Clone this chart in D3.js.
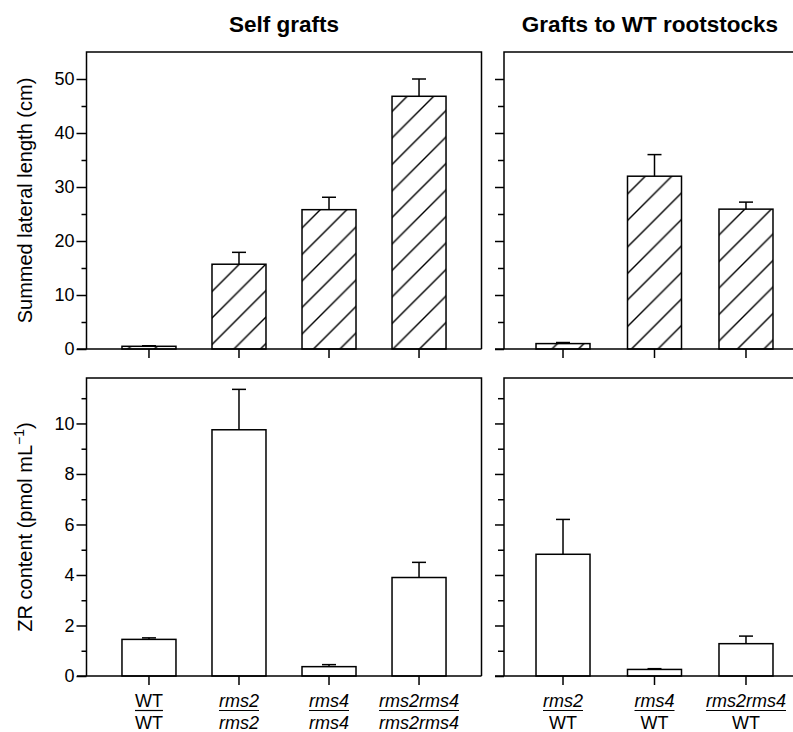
<!DOCTYPE html>
<html>
<head>
<meta charset="utf-8">
<script src="https://cdn.jsdelivr.net/npm/d3@7"></script>
<style>
  body { margin: 0; background: #fff; }
  svg { display: block; font-family: "Liberation Sans", Arial, sans-serif; }
</style>
</head>
<body>
<svg id="chart" width="793" height="732"></svg>
<script>
// categories (top / bottom of each graft label)
const selfTop = ['WT', 'rms2', 'rms4', 'rms2rms4'];
const selfBottom = ['WT', 'rms2', 'rms4', 'rms2rms4'];
const wtTop = ['rms2', 'rms4', 'rms2rms4'];
const wtBottom = ['WT', 'WT', 'WT'];

// summed lateral length (cm)
const lengthSelf = [0.5, 15.7, 25.8, 46.8];
const lengthSelfErr = [0.1, 2.2, 2.3, 3.2];
const lengthWT = [1.0, 32, 25.9];
const lengthWTErr = [0.2, 4, 1.3];

// ZR content (pmol mL-1)
const zrSelf = [1.45, 9.75, 0.37, 3.9];
const zrSelfErr = [0.06, 1.6, 0.08, 0.6];
const zrWT = [4.82, 0.26, 1.28];
const zrWTErr = [1.38, 0.03, 0.3];

const lengthTicks = [0, 10, 20, 30, 40, 50];
const zrTicks = [0, 2, 4, 6, 8, 10];

const svg = d3.select('#chart');
const BAR_W = 54;
const CAP = 7;

const defs = svg.append('defs');
defs.append('pattern')
  .attr('id', 'hatch')
  .attr('patternUnits', 'userSpaceOnUse')
  .attr('width', 26.5)
  .attr('height', 26.5)
  .append('path')
  .attr('d', 'M0,26.5L26.5,0M-5,5L5,-5M21.5,31.5L31.5,21.5')
  .attr('stroke', '#000')
  .attr('stroke-width', 1.4);

const yLength = d3.scaleLinear().domain([0, 55]).range([349, 52]);
const yZR = d3.scaleLinear().domain([0, 11.8]).range([676, 378]);

const xSelf = d3.scalePoint().domain(d3.range(4)).range([86.5, 481.5]).padding(0.694);
const xWT = d3.scalePoint().domain(d3.range(3)).range([504, 805]).padding(0.645);

const panels = [
  { x: xSelf, y: yLength, vals: lengthSelf, errs: lengthSelfErr, ticks: lengthTicks, minor: 5, hatch: true, labels: true, ext: 77 },
  { x: xWT, y: yLength, vals: lengthWT, errs: lengthWTErr, ticks: lengthTicks, minor: 5, hatch: true, labels: false, ext: 495 },
  { x: xSelf, y: yZR, vals: zrSelf, errs: zrSelfErr, ticks: zrTicks, minor: 1, hatch: false, labels: true, ext: 77 },
  { x: xWT, y: yZR, vals: zrWT, errs: zrWTErr, ticks: zrTicks, minor: 1, hatch: false, labels: false, ext: 495 }
];

function drawPanel(p) {
  const g = svg.append('g');
  const [x0, x1] = p.x.range();
  const [yb, yt] = p.y.range();
  const lineW = 1.5;

  // minor ticks
  const dmax = p.y.domain()[1];
  const minorVals = d3.range(0, dmax, p.minor).filter(v => !p.ticks.includes(v));
  g.append('g')
    .attr('transform', `translate(${x0},0)`)
    .call(d3.axisLeft(p.y).tickValues(minorVals).tickSize(p.labels ? 5 : 6).tickFormat(''))
    .call(a => a.select('.domain').remove())
    .selectAll('line').attr('stroke-width', lineW);

  // major ticks
  const ax = g.append('g')
    .attr('transform', `translate(${x0},0)`)
    .call(d3.axisLeft(p.y).tickValues(p.ticks).tickSize(p.labels ? 10 : 9).tickPadding(2)
      .tickFormat(p.labels ? d3.format('d') : ''));
  ax.select('.domain').remove();
  ax.selectAll('line').attr('stroke-width', lineW);
  ax.selectAll('text').attr('font-size', 18).attr('fill', '#000')
    .attr('font-family', '"Liberation Sans", Arial, sans-serif');

  // bars
  const bars = g.selectAll('.bar').data(p.vals).enter().append('g');
  bars.append('line')
    .attr('x1', (d, i) => p.x(i)).attr('x2', (d, i) => p.x(i))
    .attr('y1', (d, i) => p.y(d)).attr('y2', (d, i) => p.y(d + p.errs[i]))
    .attr('stroke', '#000').attr('stroke-width', lineW);
  bars.append('line')
    .attr('x1', (d, i) => p.x(i) - CAP).attr('x2', (d, i) => p.x(i) + CAP)
    .attr('y1', (d, i) => p.y(d + p.errs[i])).attr('y2', (d, i) => p.y(d + p.errs[i]))
    .attr('stroke', '#000').attr('stroke-width', lineW);
  bars.append('rect')
    .attr('x', (d, i) => p.x(i) - BAR_W / 2)
    .attr('y', d => p.y(d))
    .attr('width', BAR_W)
    .attr('height', d => p.y(0) - p.y(d))
    .attr('fill', p.hatch ? 'url(#hatch)' : '#fff')
    .attr('stroke', '#000')
    .attr('stroke-width', lineW);

  // x ticks
  g.selectAll('.xt').data(p.vals).enter().append('line')
    .attr('x1', (d, i) => p.x(i)).attr('x2', (d, i) => p.x(i))
    .attr('y1', yb).attr('y2', yb + 9)
    .attr('stroke', '#000').attr('stroke-width', lineW);

  // frame
  g.append('path')
    .attr('d', `M${x1},${yb}L${p.ext},${yb}M${x0},${yb}L${x0},${yt}L${x1},${yt}L${x1},${yb}`)
    .attr('fill', 'none')
    .attr('stroke', '#000')
    .attr('stroke-width', lineW);
}

panels.forEach(drawPanel);

// x labels as fractions
function drawLabels(x, tops, bottoms) {
  tops.forEach((t, i) => {
    const cx = x(i);
    const top = svg.append('text')
      .attr('x', cx).attr('y', 707)
      .attr('text-anchor', 'middle')
      .attr('font-size', 18)
      .attr('font-style', t === 'WT' ? 'normal' : 'italic')
      .text(t);
    const w = top.node().getComputedTextLength();
    svg.append('line')
      .attr('x1', cx - w / 2).attr('x2', cx + w / 2)
      .attr('y1', 710.5).attr('y2', 710.5)
      .attr('stroke', '#000').attr('stroke-width', 1.2);
    svg.append('text')
      .attr('x', cx).attr('y', 729)
      .attr('text-anchor', 'middle')
      .attr('font-size', 18)
      .attr('font-style', bottoms[i] === 'WT' ? 'normal' : 'italic')
      .text(bottoms[i]);
  });
}
drawLabels(xSelf, selfTop, selfBottom);
drawLabels(xWT, wtTop, wtBottom);

// titles
svg.append('text')
  .attr('x', 284).attr('y', 32)
  .attr('text-anchor', 'middle')
  .attr('font-size', 22.5).attr('font-weight', 'bold')
  .text('Self grafts');
svg.append('text')
  .attr('x', 650).attr('y', 32)
  .attr('text-anchor', 'middle')
  .attr('font-size', 22.5).attr('font-weight', 'bold')
  .text('Grafts to WT rootstocks');

// y labels
svg.append('text')
  .attr('transform', `translate(32,${(349 + 52) / 2}) rotate(-90)`)
  .attr('text-anchor', 'middle')
  .attr('font-size', 20)
  .text('Summed lateral length (cm)');

const zl = svg.append('text')
  .attr('transform', `translate(32,${(676 + 378) / 2}) rotate(-90)`)
  .attr('text-anchor', 'middle')
  .attr('font-size', 20);
zl.append('tspan').text('ZR content (pmol mL');
zl.append('tspan').attr('dy', -8).attr('font-size', 14).text('\u22121');
zl.append('tspan').attr('dy', 8).text(')');
</script>
</body>
</html>
